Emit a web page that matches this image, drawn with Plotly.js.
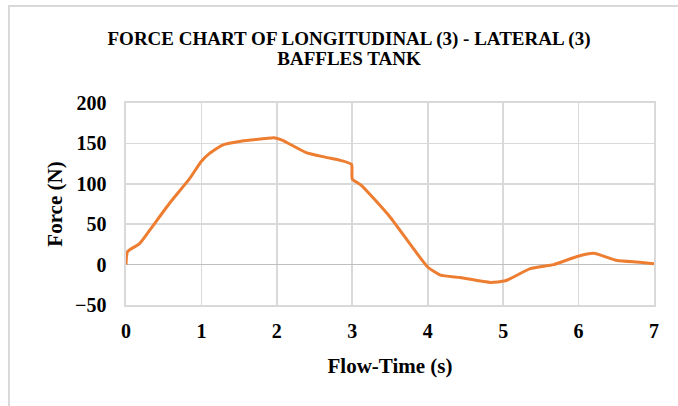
<!DOCTYPE html>
<html>
<head>
<meta charset="utf-8">
<script src="https://cdn.plot.ly/plotly-3.0.1.min.js"></script>
<style>
  html, body { margin: 0; padding: 0; background: #fff; }
  #wrap { position: relative; width: 678px; height: 406px; overflow: hidden; }
  #chart { width: 678px; height: 406px; }
  #frame { position: absolute; left: 8px; top: 5px; width: 700px; height: 420px;
           border-left: 2px solid #d9d9d9; border-top: 2px solid #d9d9d9; pointer-events: none; }
</style>
</head>
<body>
<div id="wrap">
  <div id="chart"></div>
  <div id="frame"></div>
</div>
<script>
// Flow time (s)
const flowTime = [0, 0.02, 0.18, 0.31, 0.57, 0.84, 1.0, 1.1, 1.28, 1.54, 1.85, 1.96, 2.07, 2.38, 2.64, 2.84, 2.99, 3.0, 3.12, 3.5, 4.0, 4.17, 4.43, 4.83, 5.03, 5.36, 5.67, 5.98, 6.2, 6.51, 6.81, 7.0];
// Force (N)
const force = [0, 16, 26, 42, 75, 106, 128, 137, 148, 153, 156, 157, 154, 139, 133, 129, 124, 106, 98, 59, -3, -13, -16, -22, -20, -5, 0, 10, 14, 5, 3, 1];

const titleLines = ['FORCE CHART OF LONGITUDINAL (3) - LATERAL (3)', 'BAFFLES TANK'];
const xTitle = 'Flow-Time (s)';
const yTitle = 'Force (N)';

const serif = 'Liberation Serif, Times New Roman, serif';

const trace = {
  x: flowTime,
  y: force,
  type: 'scatter',
  mode: 'lines',
  line: { color: '#ED7D31', width: 3, shape: 'spline', smoothing: 0.5 },
  hoverinfo: 'skip'
};

const layout = {
  width: 678,
  height: 406,
  margin: { l: 126, r: 24, t: 103, b: 101 },
  paper_bgcolor: '#ffffff',
  plot_bgcolor: '#ffffff',
  showlegend: false,
  title: {
    text: titleLines.map(s => '<span style="font-size:19px"><b>' + s + '</b></span>').join('<br>'),
    font: { family: serif, size: 15.5, color: '#000000' },
    x: 349 / 678,
    xref: 'container',
    xanchor: 'center',
    y: 1 - 45 / 406,
    yref: 'container',
    yanchor: 'top'
  },
  xaxis: {
    range: [0, 7],
    dtick: 1,
    tick0: 0,
    showgrid: true,
    gridcolor: '#d9d9d9',
    gridwidth: 1.6,
    zeroline: false,
    showline: true,
    linecolor: '#d9d9d9',
    linewidth: 1.6,
    mirror: true,
    ticks: '',
    ticklabelstandoff: 7,
    tickfont: { family: serif, size: 20, color: '#000000', weight: 'bold' },
    title: {
      text: '<b>' + xTitle + '</b>',
      font: { family: serif, size: 21, color: '#000000' },
      standoff: 18
    },
    fixedrange: true
  },
  yaxis: {
    range: [-50, 200],
    dtick: 50,
    tick0: 0,
    showgrid: true,
    gridcolor: '#d9d9d9',
    gridwidth: 1.6,
    zeroline: true,
    zerolinecolor: '#bfbfbf',
    zerolinewidth: 1.6,
    showline: true,
    linecolor: '#d9d9d9',
    linewidth: 1.6,
    mirror: true,
    ticks: '',
    ticklabelstandoff: 14,
    tickfont: { family: serif, size: 20, color: '#000000', weight: 'bold' },
    title: {
      text: '<b>' + yTitle + '</b>',
      font: { family: serif, size: 21, color: '#000000' },
      standoff: 6
    },
    fixedrange: true
  }
};

Plotly.newPlot('chart', [trace], layout, { displayModeBar: false, staticPlot: true });
</script>
</body>
</html>
